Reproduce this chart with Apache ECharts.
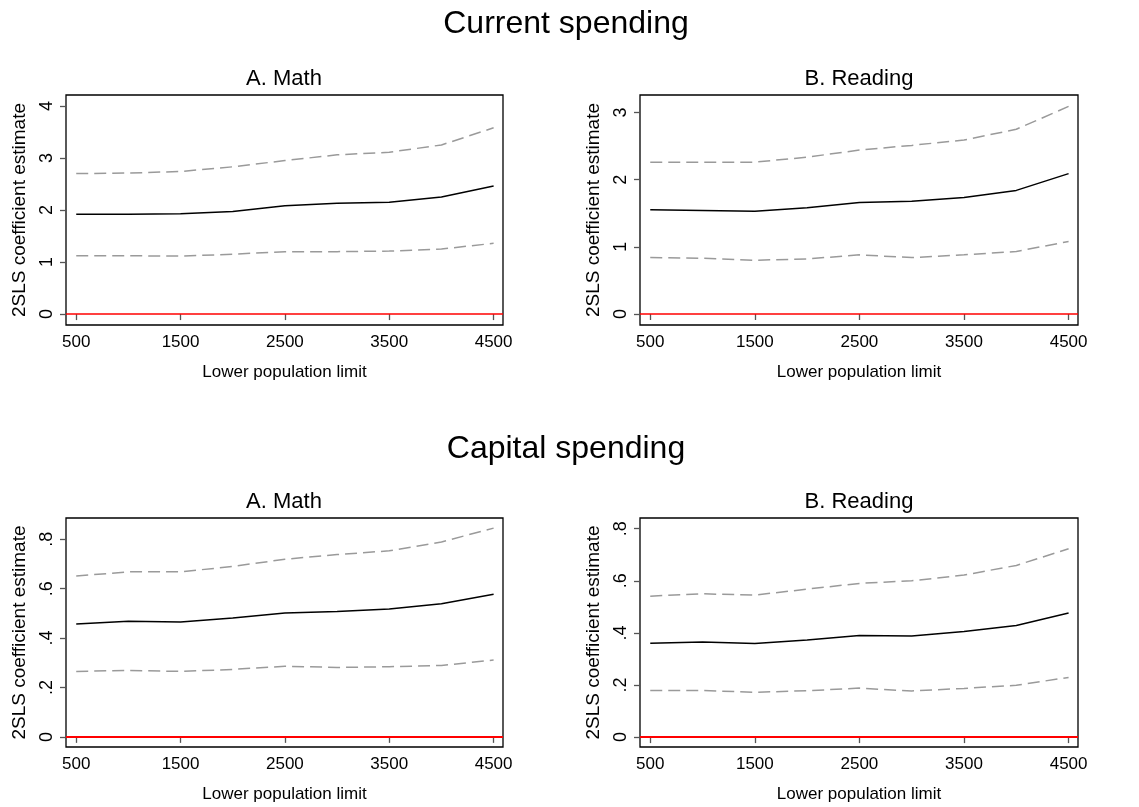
<!DOCTYPE html>
<html>
<head>
<meta charset="utf-8">
<script src="https://cdn.jsdelivr.net/npm/echarts@6/dist/echarts.min.js"></script>
<style>
  html, body { margin: 0; padding: 0; background: #fff; }
  #chart { width: 1139px; height: 807px; }
</style>
</head>
<body>
<div id="chart"></div>
<script>
// lower population limits (x)
var limits = [500, 1000, 1500, 2000, 2500, 3000, 3500, 4000, 4500];
var xTicks = [500, 1500, 2500, 3500, 4500];

// Current spending, math
var curMathEst = [1.92, 1.92, 1.93, 1.97, 2.08, 2.13, 2.15, 2.25, 2.46];
var curMathHi  = [2.70, 2.71, 2.74, 2.83, 2.95, 3.06, 3.11, 3.25, 3.58];
var curMathLo  = [1.12, 1.12, 1.115, 1.15, 1.20, 1.20, 1.21, 1.25, 1.36];

// Current spending, reading
var curReadEst = [1.55, 1.54, 1.53, 1.58, 1.66, 1.68, 1.735, 1.84, 2.09];
var curReadHi  = [2.26, 2.26, 2.26, 2.335, 2.44, 2.51, 2.59, 2.75, 3.09];
var curReadLo  = [0.84, 0.83, 0.80, 0.82, 0.88, 0.84, 0.88, 0.93, 1.08];

// Capital spending, math
var capMathEst = [0.457, 0.468, 0.465, 0.481, 0.501, 0.508, 0.518, 0.539, 0.577];
var capMathHi  = [0.651, 0.668, 0.668, 0.690, 0.719, 0.738, 0.753, 0.789, 0.845];
var capMathLo  = [0.265, 0.269, 0.265, 0.273, 0.286, 0.281, 0.284, 0.289, 0.311];

// Capital spending, reading
var capReadEst = [0.360, 0.365, 0.359, 0.373, 0.390, 0.388, 0.405, 0.428, 0.476];
var capReadHi  = [0.541, 0.550, 0.545, 0.568, 0.590, 0.600, 0.622, 0.659, 0.723];
var capReadLo  = [0.179, 0.179, 0.172, 0.178, 0.188, 0.177, 0.187, 0.199, 0.229];

var yTicksCur1 = [0, 1, 2, 3, 4];
var yTicksCur2 = [0, 1, 2, 3];
var yTicksCap = [0, 0.2, 0.4, 0.6, 0.8];

var FONT = '"Liberation Sans", Arial, sans-serif';

function pairs(ys) {
    return limits.map(function (x, i) { return [x, ys[i]]; });
}

function fmtY(v) {
    if (v === 0) return '0';
    return String(v).replace(/^0\./, '.');
}

var panels = [
    {grid: {left: 66, top: 95, width: 437, height: 230}, ymin: -0.21, ymax: 4.21, yticks: yTicksCur1,
        est: curMathEst, hi: curMathHi, lo: curMathLo, zw: 1.5},
    {grid: {left: 640, top: 95, width: 438, height: 230}, ymin: -0.164, ymax: 3.26, yticks: yTicksCur2,
        est: curReadEst, hi: curReadHi, lo: curReadLo, zw: 1.5},
    {grid: {left: 66, top: 518, width: 437, height: 229}, ymin: -0.041, ymax: 0.886, yticks: yTicksCap,
        est: capMathEst, hi: capMathHi, lo: capMathLo, zw: 2},
    {grid: {left: 640, top: 518, width: 438, height: 229}, ymin: -0.038, ymax: 0.841, yticks: yTicksCap,
        est: capReadEst, hi: capReadHi, lo: capReadLo, zw: 2}
];

var grids = [], xAxes = [], yAxes = [], series = [];

panels.forEach(function (p, i) {
    grids.push(Object.assign({show: true, borderColor: '#000', borderWidth: 1.3, backgroundColor: '#fff'}, p.grid));
    xAxes.push({
        type: 'value', gridIndex: i, min: 402, max: 4590,
        name: 'Lower population limit', nameLocation: 'middle', nameGap: 39,
        nameTextStyle: {fontFamily: FONT, fontSize: 17, color: '#000'},
        axisLine: {show: false},
        axisTick: {show: true, length: 6, customValues: xTicks, lineStyle: {color: '#555', width: 1.3}},
        axisLabel: {customValues: xTicks, margin: 9, fontFamily: FONT, fontSize: 17, color: '#000',
            formatter: function (v) { return String(v); }},
        splitLine: {show: false}
    });
    yAxes.push({
        type: 'value', gridIndex: i, min: p.ymin, max: p.ymax,
        name: '2SLS coefficient estimate', nameLocation: 'middle', nameGap: 37, nameRotate: 90,
        nameTextStyle: {fontFamily: FONT, fontSize: 19, color: '#000'},
        axisLine: {show: false},
        axisTick: {show: true, length: 6, customValues: p.yticks, lineStyle: {color: '#555', width: 1.3}},
        axisLabel: {customValues: p.yticks, rotate: 90, margin: 10, fontFamily: FONT, fontSize: 18, color: '#000',
            formatter: fmtY},
        splitLine: {show: false}
    });
    series.push({
        type: 'line', xAxisIndex: i, yAxisIndex: i, data: pairs(p.hi), symbol: 'none',
        lineStyle: {color: '#9a9a9a', width: 1.5, type: [12, 6]}, z: 3
    });
    series.push({
        type: 'line', xAxisIndex: i, yAxisIndex: i, data: pairs(p.lo), symbol: 'none',
        lineStyle: {color: '#9a9a9a', width: 1.5, type: [12, 6]}, z: 3
    });
    series.push({
        type: 'line', xAxisIndex: i, yAxisIndex: i, data: pairs(p.est), symbol: 'none',
        lineStyle: {color: '#000', width: 1.5}, z: 4,
        markLine: {
            silent: true, symbol: 'none', label: {show: false},
            lineStyle: {color: '#ff0000', width: p.zw, type: 'solid'},
            data: [{yAxis: 0}]
        }
    });
});

var titleStyle = {fontFamily: FONT, fontWeight: 'normal', color: '#000'};

var option = {
    animation: false,
    backgroundColor: '#fff',
    title: [
        {text: 'Current spending', left: 566, top: 8, textAlign: 'center', padding: 0,
            textStyle: Object.assign({fontSize: 32}, titleStyle)},
        {text: 'Capital spending', left: 566, top: 433, textAlign: 'center', padding: 0,
            textStyle: Object.assign({fontSize: 32}, titleStyle)},
        {text: 'A. Math', left: 284, top: 68, textAlign: 'center', padding: 0,
            textStyle: Object.assign({fontSize: 22}, titleStyle)},
        {text: 'B. Reading', left: 859, top: 68, textAlign: 'center', padding: 0,
            textStyle: Object.assign({fontSize: 22}, titleStyle)},
        {text: 'A. Math', left: 284, top: 491, textAlign: 'center', padding: 0,
            textStyle: Object.assign({fontSize: 22}, titleStyle)},
        {text: 'B. Reading', left: 859, top: 491, textAlign: 'center', padding: 0,
            textStyle: Object.assign({fontSize: 22}, titleStyle)}
    ],
    grid: grids,
    xAxis: xAxes,
    yAxis: yAxes,
    series: series
};

var chart = echarts.init(document.getElementById('chart'));
chart.setOption(option);
</script>
</body>
</html>
